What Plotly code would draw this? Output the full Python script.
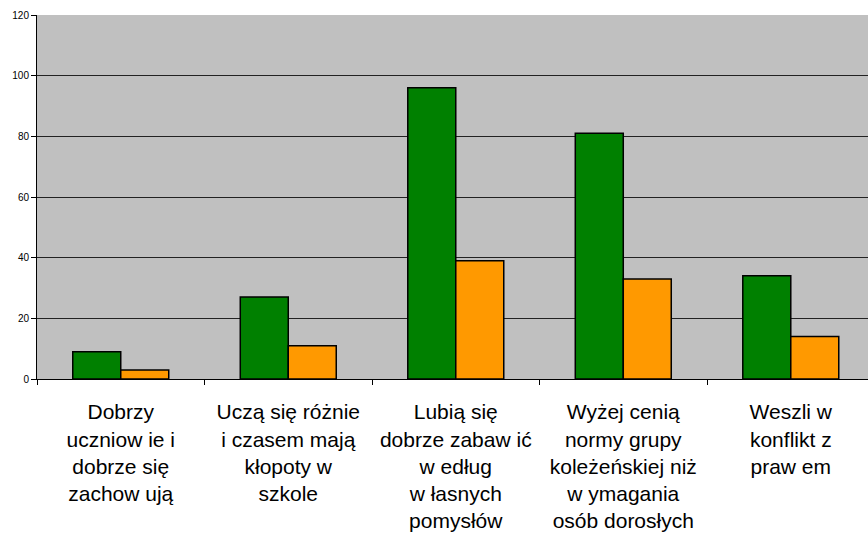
import plotly.graph_objects as go

# categories as printed under the bars (line breaks as in the picture)
categories = [
    "Dobrzy<br>uczniow ie i<br>dobrze się<br>zachow ują",
    "Uczą się różnie<br>i czasem mają<br>kłopoty w<br>szkole",
    "Lubią się<br>dobrze zabaw ić<br>w edług<br>w łasnych<br>pomysłów",
    "Wyżej cenią<br>normy grupy<br>koleżeńskiej niż<br>w ymagania<br>osób dorosłych",
    "Weszli w<br>konflikt z<br>praw em",
]
series_green = [9, 27, 96, 81, 34]
series_orange = [3, 11, 39, 33, 14]
y_ticks = [0, 20, 40, 60, 80, 100, 120]

fig = go.Figure()

fig.add_trace(go.Bar(
    x=categories,
    y=series_green,
    marker=dict(color="#008000", line=dict(color="black", width=1.5)),
))
fig.add_trace(go.Bar(
    x=categories,
    y=series_orange,
    marker=dict(color="#FF9900", line=dict(color="black", width=1.5)),
))

fig.update_layout(
    width=868,
    height=540,
    margin=dict(l=37, r=0, t=15, b=161),
    paper_bgcolor="white",
    plot_bgcolor="#C0C0C0",
    barmode="group",
    bargap=0.427,
    bargroupgap=0,
    showlegend=False,
    font=dict(family="Liberation Sans, Arial, sans-serif", color="black"),
)

fig.update_xaxes(
    range=[-0.5, 4.461],
    automargin=False,
    showline=True,
    linecolor="black",
    linewidth=1,
    ticks="outside",
    tickson="boundaries",
    ticklen=5,
    tickcolor="black",
    tickfont=dict(size=21),
    ticklabelstandoff=14,
    showgrid=False,
)

fig.update_yaxes(
    range=[0, 120],
    automargin=False,
    tickvals=y_ticks,
    showline=True,
    linecolor="black",
    linewidth=1,
    ticks="outside",
    ticklen=5,
    tickcolor="black",
    tickfont=dict(size=10),
    showgrid=True,
    gridcolor="#222222",
    gridwidth=1,
    zeroline=False,
)

# page body has a default 8px margin; drop it so the figure sits at 0,0
fig.write_html(
    "out.html",
    config={"displayModeBar": False},
    post_script="document.body.style.margin='0px';",
)
